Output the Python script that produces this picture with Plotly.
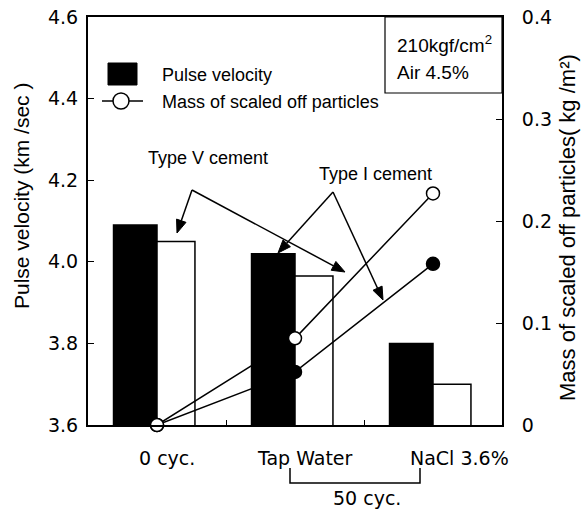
import math
import plotly.graph_objects as go

# ---- data ----
categories = ["0 cyc.", "Tap Water", "NaCl 3.6%"]
pulse_type1 = [4.09, 4.02, 3.80]      # black bars (km/sec)
pulse_type5 = [4.05, 3.965, 3.70]     # white bars (km/sec)
mass_open = [0.0, 0.085, 0.227]       # open circles (kg/m2)
mass_filled = [0.0, 0.052, 0.158]     # filled circles (kg/m2)
left_ticks = [3.6, 3.8, 4.0, 4.2, 4.4, 4.6]
right_ticks = [0, 0.1, 0.2, 0.3, 0.4]
right_ticktext = ["0", "0.1", "0.2", "0.3", "0.4"]
label_shift = [10, 10, 26]

W, H = 584, 514
L, R, T, B = 88, 502, 17, 425


def px(x):
    return (x - L) / (R - L)


def py(y):
    return (B - y) / (B - T)


TXT = "Liberation Sans, Arial, sans-serif"
NUM = "DejaVu Sans, sans-serif"

fig = go.Figure()
fig.add_trace(go.Bar(x=categories, y=pulse_type1, width=0.315, offset=-0.315,
                     marker=dict(color="black", line=dict(color="black", width=1.5)),
                     yaxis="y"))
fig.add_trace(go.Bar(x=categories, y=pulse_type5, width=0.275, offset=0,
                     marker=dict(color="white", line=dict(color="black", width=1.5)),
                     yaxis="y"))
fig.add_trace(go.Scatter(x=categories, y=mass_filled, yaxis="y2", mode="lines+markers",
                         line=dict(color="black", width=1.5),
                         marker=dict(size=13, color="black", line=dict(color="black", width=1.5)),
                         cliponaxis=False))
fig.add_trace(go.Scatter(x=categories, y=mass_open, yaxis="y2", mode="lines+markers",
                         line=dict(color="black", width=1.5),
                         marker=dict(size=13, color="white", line=dict(color="black", width=1.5)),
                         cliponaxis=False))


def label(x, y, text, size, family=TXT, xanchor="center", angle=0, xref="paper"):
    return dict(x=x, y=y, xref=xref, yref="paper", text=text, showarrow=False,
                xanchor=xanchor, yanchor="middle", textangle=angle,
                font=dict(family=family, size=size, color="black"))


annotations = []
# category labels
for c, s in zip(categories, label_shift):
    a = label(c, py(458), c, 19, family=NUM, xref="x")
    a["xshift"] = s
    annotations.append(a)
annotations.append(label(px(367), py(498), "50 cyc.", 19, family=NUM))
# axis titles
annotations.append(label(px(21), py(196), "Pulse velocity (km /sec )", 21, angle=-90))
annotations.append(label(px(568), py(228), "Mass of scaled off particles( kg /m²)", 22, angle=-90))
# legend texts
annotations.append(label(px(160), py(75), "Pulse velocity", 18, xanchor="left"))
annotations.append(label(px(160), py(102), "Mass of scaled off particles", 18, xanchor="left"))
# info box text
annotations.append(label(px(395), py(44), "210kgf/cm<sup>2</sup>", 19, xanchor="left"))
annotations.append(label(px(395), py(73), "Air 4.5%", 19, xanchor="left"))
# cement labels
annotations.append(label(px(208), py(158), "Type V cement", 18))
annotations.append(label(px(375), py(174), "Type I cement", 18))

shapes = [
    # legend swatches
    dict(type="rect", xref="paper", yref="paper", x0=px(108), x1=px(137), y0=py(85), y1=py(63),
         fillcolor="black", line=dict(color="black", width=1)),
    dict(type="line", xref="paper", yref="paper", x0=px(102), x1=px(143), y0=py(101), y1=py(101),
         line=dict(color="black", width=1.5)),
    dict(type="circle", xref="paper", yref="paper", x0=px(113), x1=px(129), y0=py(109), y1=py(93),
         fillcolor="white", line=dict(color="black", width=1.5)),
    # info box
    dict(type="rect", xref="paper", yref="paper", x0=px(385), x1=px(502), y0=py(93), y1=py(17),
         fillcolor="rgba(0,0,0,0)", line=dict(color="black", width=1.2)),
    # bracket for 50 cyc.
    dict(type="path", xref="paper", yref="paper",
         path=f"M {px(290)},{py(468)} L {px(290)},{py(483)} L {px(420)},{py(483)} L {px(420)},{py(468)}",
         line=dict(color="black", width=1.5)),
]

# arrows (tip, apex) drawn as line + filled triangular head
arrows = [((177, 233), (192, 190)), ((345, 272), (192, 190)),
          ((278, 253), (333, 192)), ((383, 300), (333, 192))]
HEAD_L, HEAD_W = 13, 5
for (tx, ty), (ax, ay) in arrows:
    dx, dy = tx - ax, ty - ay
    n = math.hypot(dx, dy)
    ux, uy = dx / n, dy / n
    bx, by = tx - ux * HEAD_L, ty - uy * HEAD_L
    lx, ly = bx - uy * HEAD_W, by + ux * HEAD_W
    rx, ry = bx + uy * HEAD_W, by - ux * HEAD_W
    shapes.append(dict(type="line", xref="paper", yref="paper",
                       x0=px(ax), y0=py(ay), x1=px(bx), y1=py(by),
                       line=dict(color="black", width=1.5)))
    shapes.append(dict(type="path", xref="paper", yref="paper",
                       path=f"M {px(tx)},{py(ty)} L {px(lx)},{py(ly)} L {px(rx)},{py(ry)} Z",
                       fillcolor="black", line=dict(color="black", width=1)))

fig.update_layout(
    width=W, height=H,
    margin=dict(l=L, r=W - R, t=T, b=H - B, autoexpand=False),
    paper_bgcolor="white", plot_bgcolor="white",
    showlegend=False, barmode="overlay",
    xaxis=dict(type="category", range=[-0.5, 2.5], showticklabels=False,
               showline=True, linecolor="black", linewidth=2, mirror=True,
               ticks="inside", tickson="boundaries", ticklen=5, tickcolor="black",
               showgrid=False, zeroline=False),
    yaxis=dict(range=[3.6, 4.6], tickvals=left_ticks, tickformat=".1f",
               ticks="inside", ticklen=6, tickcolor="black", tickwidth=1.2,
               showline=True, linecolor="black", linewidth=2,
               showgrid=False, zeroline=False, ticklabelstandoff=4,
               tickfont=dict(family=NUM, size=19, color="black")),
    yaxis2=dict(range=[0, 0.4], tickvals=right_ticks, ticktext=right_ticktext,
                overlaying="y", side="right",
                ticks="inside", ticklen=6, tickcolor="black", tickwidth=1.2,
                showline=True, linecolor="black", linewidth=2,
                showgrid=False, zeroline=False, ticklabelstandoff=14,
                tickfont=dict(family=NUM, size=19, color="black")),
    annotations=annotations,
    shapes=shapes,
)

fig.write_html("out.html")
